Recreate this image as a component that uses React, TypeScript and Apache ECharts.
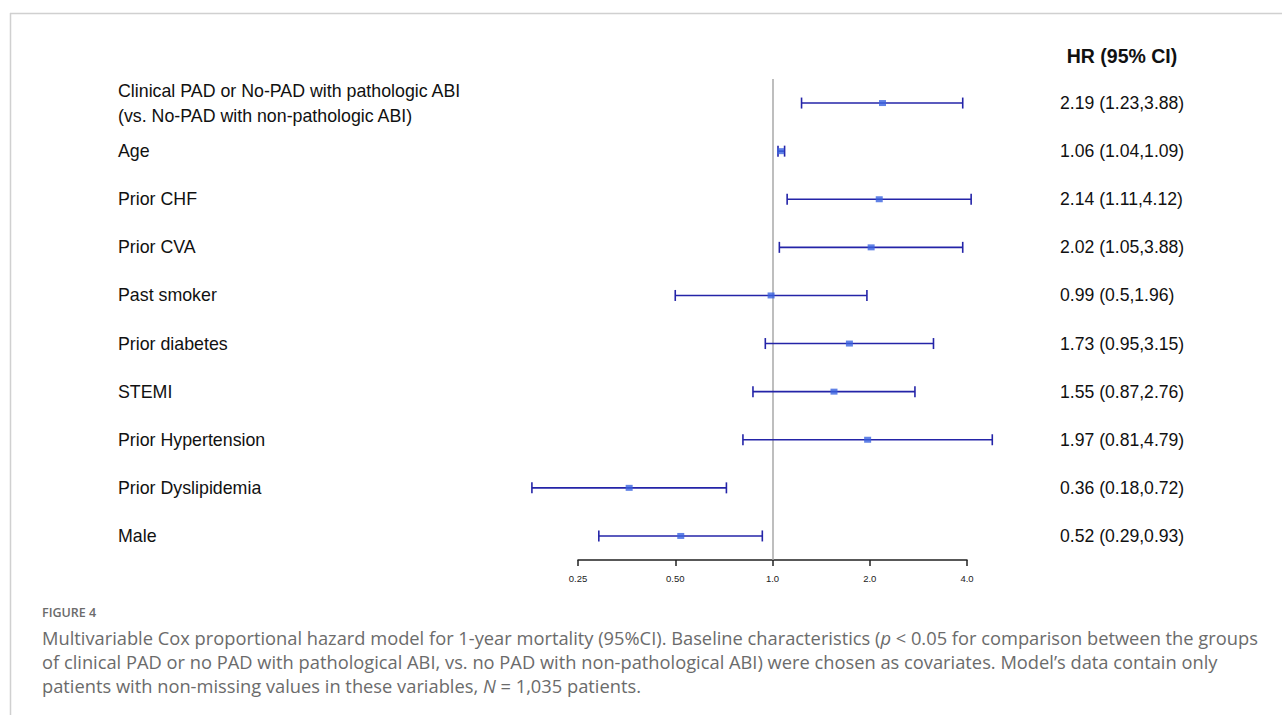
import React, { useEffect, useRef } from "react";
import * as echarts from "echarts";

const labels = [
  "Clinical PAD or No-PAD with pathologic ABI\n(vs. No-PAD with non-pathologic ABI)",
  "Age",
  "Prior CHF",
  "Prior CVA",
  "Past smoker",
  "Prior diabetes",
  "STEMI",
  "Prior Hypertension",
  "Prior Dyslipidemia",
  "Male",
];
const hr = [2.19, 1.06, 2.14, 2.02, 0.99, 1.73, 1.55, 1.97, 0.36, 0.52];
const lower = [1.23, 1.04, 1.11, 1.05, 0.5, 0.95, 0.87, 0.81, 0.18, 0.29];
const upper = [3.88, 1.09, 4.12, 3.88, 1.96, 3.15, 2.76, 4.79, 0.72, 0.93];
const hrText = [
  "2.19 (1.23,3.88)",
  "1.06 (1.04,1.09)",
  "2.14 (1.11,4.12)",
  "2.02 (1.05,3.88)",
  "0.99 (0.5,1.96)",
  "1.73 (0.95,3.15)",
  "1.55 (0.87,2.76)",
  "1.97 (0.81,4.79)",
  "0.36 (0.18,0.72)",
  "0.52 (0.29,0.93)",
];
const xTicks = [0.25, 0.5, 1, 2, 4];

export default function App() {
  const ref = useRef<HTMLDivElement>(null);
  useEffect(() => {
    if (!ref.current) return;
    const chart = echarts.init(ref.current, null, { renderer: "svg" });
    const labelFont = "'Liberation Sans', Arial, sans-serif";
    const capFont = "'Open Sans', 'Noto Sans', sans-serif";
    chart.setOption({
      animation: false,
      backgroundColor: "#ffffff",
      grid: { left: 578, right: 315, top: 79, bottom: 155 },
      xAxis: {
        type: "log",
        logBase: 2,
        min: xTicks[0],
        max: xTicks[xTicks.length - 1],
        splitLine: { show: false },
        axisLine: { show: true, lineStyle: { color: "#222", width: 1.5 } },
        axisTick: { show: true, length: 6, lineStyle: { color: "#222", width: 1.5 } },
        axisLabel: {
          fontSize: 9.5,
          color: "#222",
          margin: 13,
          fontFamily: labelFont,
          formatter: (v: number) => (v < 1 ? v.toFixed(2) : v.toFixed(1)),
        },
      },
      yAxis: [
        {
          type: "category",
          inverse: true,
          data: labels,
          axisLine: { show: false },
          axisTick: { show: false },
          axisLabel: {
            align: "left",
            margin: 460,
            fontSize: 17.8,
            lineHeight: 25,
            color: "#111",
            fontFamily: labelFont,
          },
        },
        {
          type: "category",
          inverse: true,
          position: "right",
          data: hrText,
          axisLine: { show: false },
          axisTick: { show: false },
          axisLabel: {
            align: "left",
            margin: 93,
            fontSize: 17.6,
            color: "#111",
            fontFamily: labelFont,
          },
        },
      ],
      series: [
        {
          type: "custom",
          renderItem: (params: any, api: any) => {
            const lo = api.coord([api.value(0), api.value(2)]);
            const hi = api.coord([api.value(1), api.value(2)]);
            const h = 5.5;
            const style = { stroke: "#2424a8", lineWidth: 1.6 };
            return {
              type: "group",
              children: [
                { type: "line", shape: { x1: lo[0], y1: lo[1], x2: hi[0], y2: hi[1] }, style },
                { type: "line", shape: { x1: lo[0], y1: lo[1] - h, x2: lo[0], y2: lo[1] + h }, style },
                { type: "line", shape: { x1: hi[0], y1: hi[1] - h, x2: hi[0], y2: hi[1] + h }, style },
              ],
            };
          },
          data: labels.map((_, i) => [lower[i], upper[i], i]),
          z: 3,
        },
        {
          type: "scatter",
          symbol: "rect",
          symbolSize: [7, 6],
          itemStyle: { color: "#3a63e0" },
          data: labels.map((_, i) => [hr[i], i]),
          z: 4,
          markLine: {
            silent: true,
            symbol: "none",
            label: { show: false },
            lineStyle: { color: "#a8a8a8", width: 1.5, type: "solid" },
            data: [{ xAxis: 1 }],
            z: 1,
          },
        },
      ],
      graphic: [
        {
          type: "line",
          shape: { x1: 10, y1: 13.5, x2: 1282, y2: 13.5 },
          style: { stroke: "#d0d0d0", lineWidth: 1.5 },
        },
        {
          type: "line",
          shape: { x1: 10.5, y1: 13, x2: 10.5, y2: 715 },
          style: { stroke: "#d0d0d0", lineWidth: 1.5 },
        },
        {
          type: "text",
          x: 1122,
          y: 56,
          style: {
            text: "HR (95% CI)",
            font: `bold 19.5px ${labelFont}`,
            fill: "#111",
            align: "center",
            verticalAlign: "middle",
          },
        },
        {
          type: "text",
          x: 42,
          y: 612,
          style: {
            text: "FIGURE 4",
            font: `600 12.5px ${capFont}`,
            fill: "#6b6b6b",
            verticalAlign: "middle",
          },
        },
        {
          type: "text",
          x: 42,
          y: 625,
          style: {
            text:
              "Multivariable Cox proportional hazard model for 1-year mortality (95%CI). Baseline characteristics ({i|p} < 0.05 for comparison between the groups\n" +
              "of clinical PAD or no PAD with pathological ABI, vs. no PAD with non-pathological ABI) were chosen as covariates. Model’s data contain only\n" +
              "patients with non-missing values in these variables, {i|N} = 1,035 patients.",
            font: `18.3px ${capFont}`,
            fill: "#6b6b6b",
            lineHeight: 24,
            verticalAlign: "top",
            rich: {
              i: { fontStyle: "italic", fontSize: 18.3, fontFamily: capFont, fill: "#6b6b6b", lineHeight: 24 },
            },
          },
        },
      ],
    });
    return () => chart.dispose();
  }, []);
  return (
    <div
      ref={ref}
      style={{ position: "fixed", left: 0, top: 0, width: 1282, height: 715, background: "#fff" }}
    />
  );
}
